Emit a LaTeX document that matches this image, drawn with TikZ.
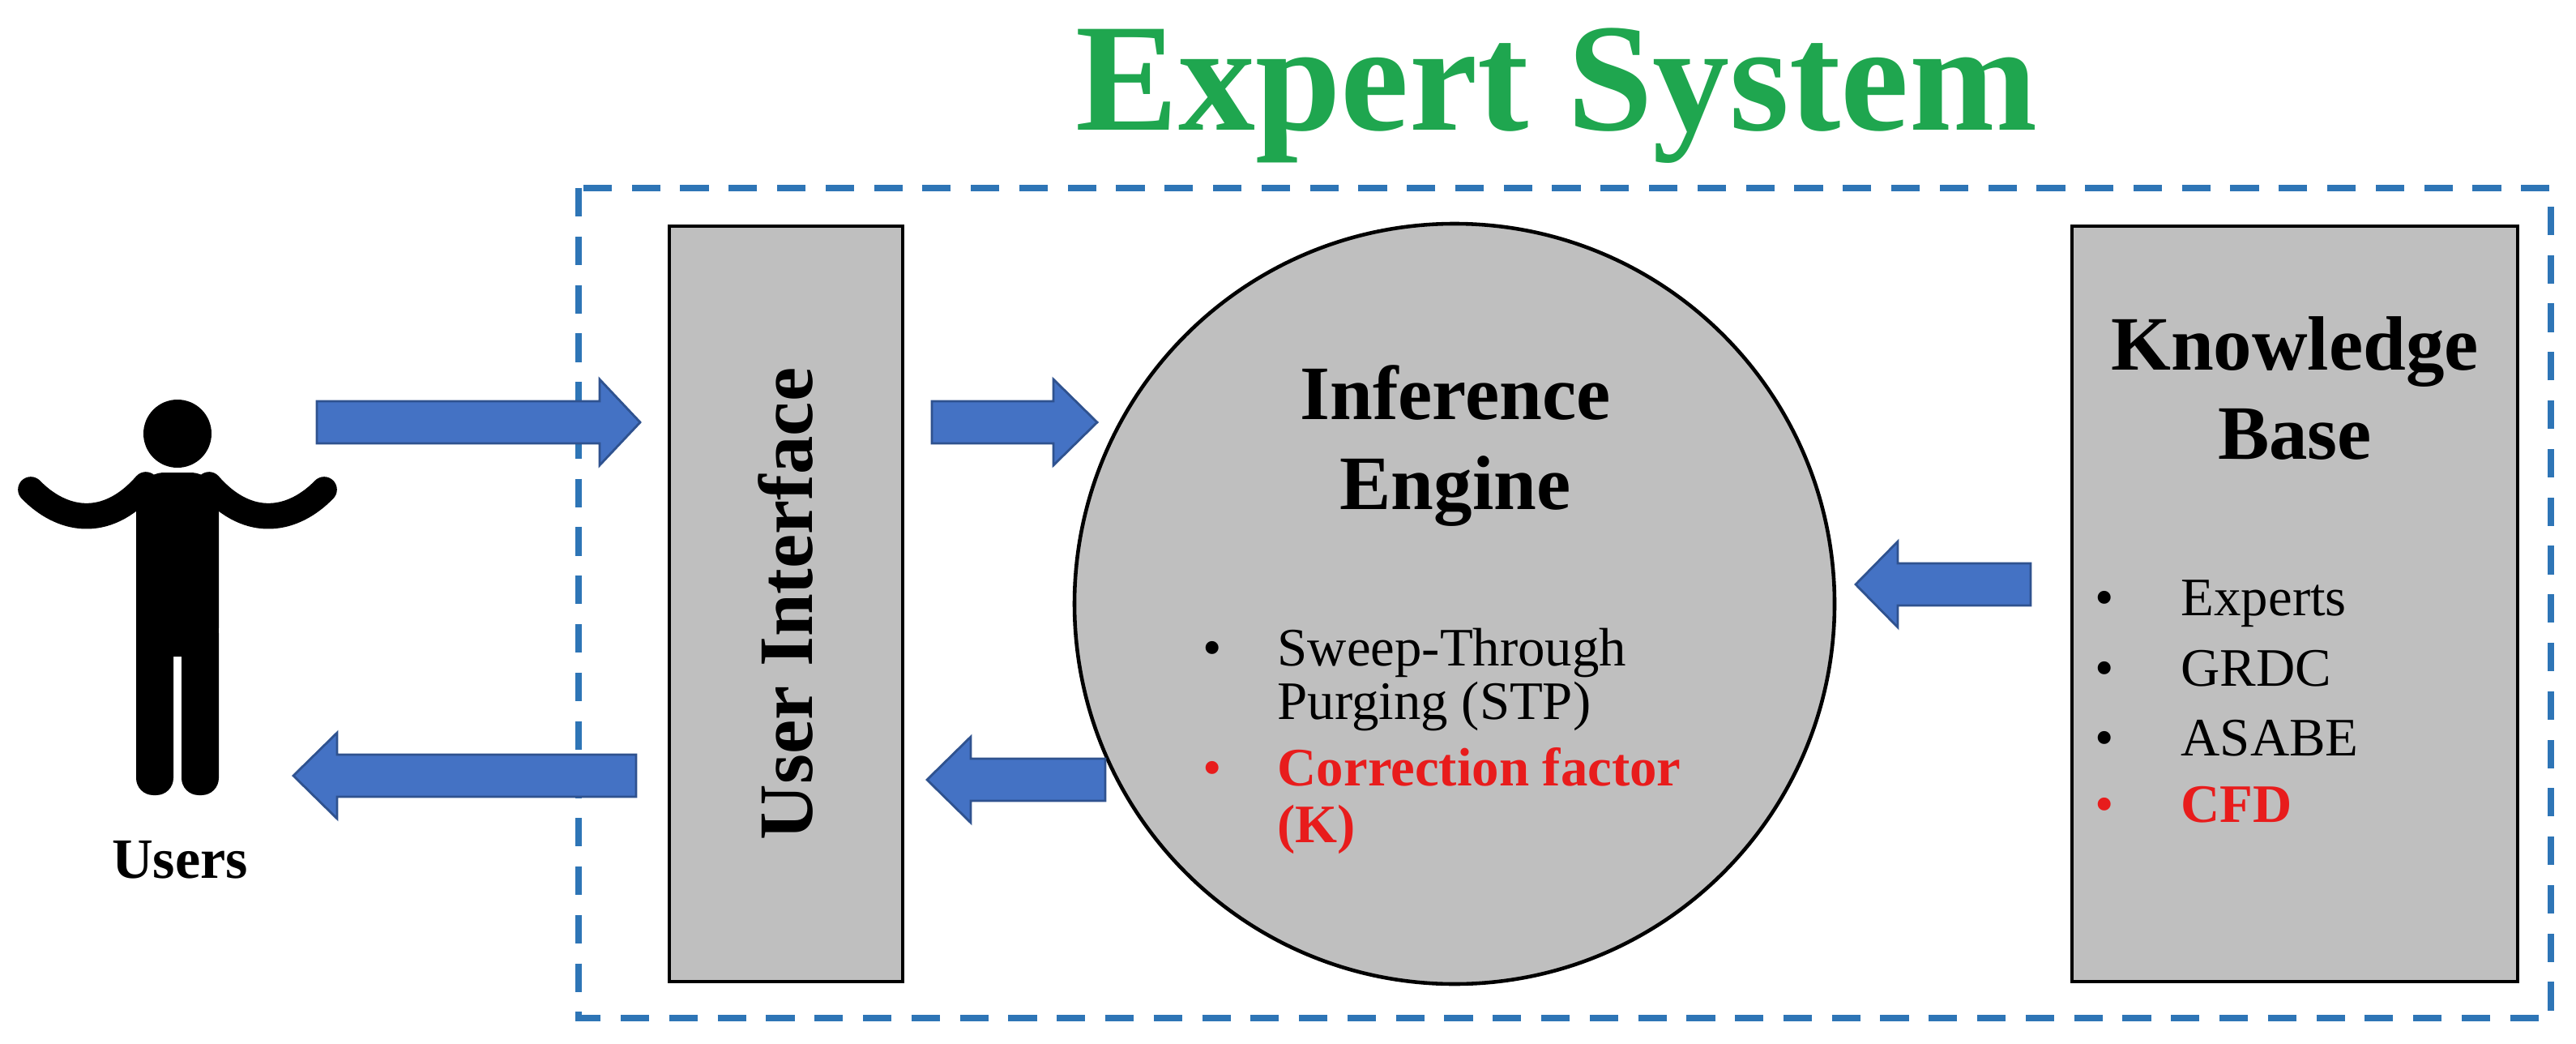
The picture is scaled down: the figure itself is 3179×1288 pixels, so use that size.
\documentclass[tikz,border=0pt]{standalone}
\usepackage{fontspec}
\setmainfont{Liberation Serif}
\definecolor{esgreen}{HTML}{1FA64F}
\definecolor{esblue}{HTML}{2E75B6}
\definecolor{arrblue}{HTML}{4472C4}
\definecolor{arrline}{HTML}{2F528F}
\definecolor{boxgray}{HTML}{BFBFBF}
\definecolor{esred}{HTML}{E81C1C}
\newcommand\blkarrow[4]{% tail x, head base x, tip x, y
  \filldraw[fill=arrblue,draw=arrline,line width=0.8pt]
   (#1,#4-26) -- (#2,#4-26) -- (#2,#4-53) -- (#3,#4) -- (#2,#4+53) -- (#2,#4+26) -- (#1,#4+26) -- cycle;}
\begin{document}
\begin{tikzpicture}[x=0.01cm,y=-0.01cm,
  blk/.style={fill=boxgray,draw=black,line width=1.3pt},
  head/.style={align=center,font=\fontsize{27}{31}\selectfont\bfseries},
  bt/.style={font=\fontsize{19}{22}\selectfont,anchor=base west,inner sep=0pt},
  rbt/.style={bt,text=esred,font=\fontsize{19}{22}\selectfont\bfseries},
  bul/.style={font=\fontsize{19}{22}\selectfont,anchor=base,inner sep=0pt}]
\useasboundingbox (0,0) rectangle (3179,1288);
\node[font=\fontsize{54}{58}\selectfont\bfseries,text=esgreen,anchor=base,inner sep=0pt] (title) at (1921,160) {Expert System};
\draw[esblue,line width=2.3pt,dash pattern=on 10pt off 7pt] (714,232) rectangle (3148,1256);
\draw[blk] (826,279) rectangle (1114,1211);
\coordinate (ui) at (970,745);
\node[rotate=90,font=\fontsize{27}{31}\selectfont\bfseries] (uit) at (ui) {User Interface};
\draw[blk] (1795,745) circle (469);
\node[head,anchor=base] (iet1) at (1796,517) {Inference};
\node[head,anchor=base] (iet2) at (1796,628) {Engine};
\draw[blk] (2557,279) rectangle (3107,1211);
\node[head,anchor=base] (kbt1) at (2832,456) {Knowledge};
\node[head,anchor=base] (kbt2) at (2832,566) {Base};
% inference bullets
\node[bul] (b1) at (1496,821) {\textbullet};
\node[bt] (t1) at (1576,821) {Sweep-Through};
\node[bt] (t2) at (1576,887) {Purging (STP)};
\node[bul,text=esred] (b2) at (1496,969) {\textbullet};
\node[rbt] (t3) at (1576,969) {Correction factor};
\node[rbt] (t4) at (1576,1039) {(K)};
% KB bullets
\foreach \y/\t [count=\i] in {759/Experts,846/GRDC,932/ASABE}{
  \node[bul] (kbb\i) at (2597,\y) {\textbullet};
  \node[bt] (kbl\i) at (2691,\y) {\t};}
\node[bul,text=esred] (kbb4) at (2597,1014) {\textbullet};
\node[rbt] (kbl4) at (2691,1014) {CFD};
% arrows
\blkarrow{391}{740}{790}{521}
\blkarrow{1150}{1300}{1354}{521}
\blkarrow{785}{416}{362}{957}
\blkarrow{1364}{1198}{1144}{962}
\blkarrow{2506}{2342}{2290}{721}
% person
\fill (219,535) circle (42);
\fill[rounded corners=10pt] (168,583) rectangle (270,810);
\fill[rounded corners=6pt] (168,760) rectangle (214,981);
\fill[rounded corners=6pt] (224,760) rectangle (270,981);
\draw[line width=9pt,line cap=round] (38,604) .. controls (75,642) and (130,655) .. (180,598);
\draw[line width=9pt,line cap=round] (400,604) .. controls (363,642) and (308,655) .. (258,598);
\node[font=\fontsize{20}{23}\selectfont\bfseries,anchor=base] (users) at (222,1083) {Users};
\end{tikzpicture}
\end{document}
